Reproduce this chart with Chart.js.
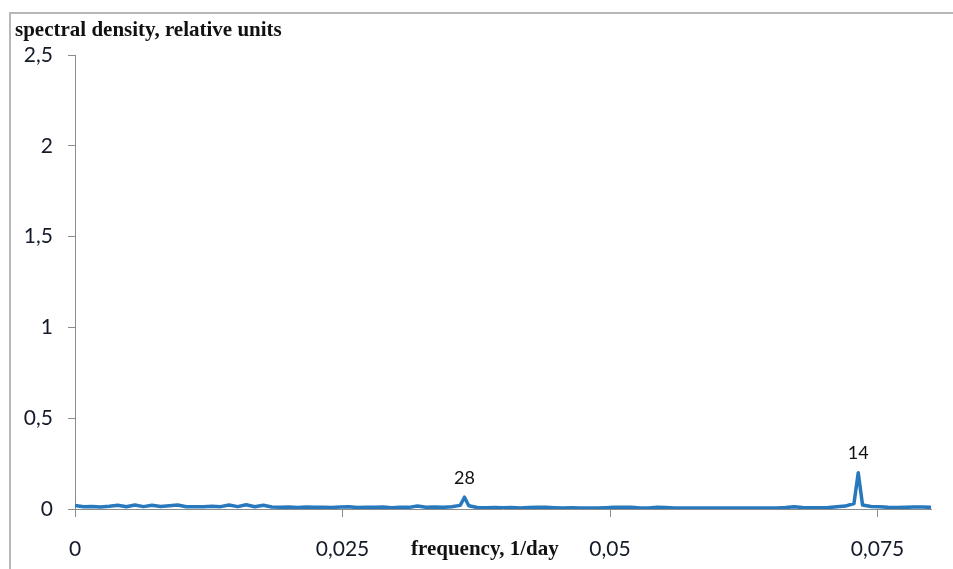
<!DOCTYPE html>
<html>
<head>
<meta charset="utf-8">
<script src="https://cdn.jsdelivr.net/npm/chart.js@4"></script>
<style>
  html, body { margin: 0; padding: 0; background: #fff; }
  #wrap { position: relative; width: 953px; height: 569px; }
</style>
</head>
<body>
<div id="wrap"><canvas id="spectrum" width="953" height="569"></canvas></div>
<script>
// frequency, 1/day
const freqs = [
  0, 0.0008, 0.0016, 0.0024, 0.0032, 0.0040, 0.0048, 0.0056, 0.0064, 0.0072,
  0.0080, 0.0088, 0.0096, 0.0104, 0.0112, 0.0120, 0.0128, 0.0136, 0.0144, 0.0152,
  0.0160, 0.0168, 0.0176, 0.0184, 0.0192, 0.0200, 0.0208, 0.0216, 0.0224, 0.0232,
  0.0240, 0.0248, 0.0256, 0.0264, 0.0272, 0.0280, 0.0288, 0.0296, 0.0304, 0.0312,
  0.0320, 0.0328, 0.0336, 0.0344, 0.0352, 0.0360, 0.0364, 0.0368, 0.0376, 0.0384, 0.0392,
  0.0400, 0.0408, 0.0416, 0.0424, 0.0432, 0.0440, 0.0448, 0.0456, 0.0464, 0.0472,
  0.0480, 0.0488, 0.0496, 0.0504, 0.0512, 0.0520, 0.0528, 0.0536, 0.0544, 0.0552,
  0.0560, 0.0568, 0.0576, 0.0584, 0.0592, 0.0600, 0.0608, 0.0616, 0.0624, 0.0632,
  0.0640, 0.0648, 0.0656, 0.0664, 0.0672, 0.0680, 0.0688, 0.0696, 0.0704, 0.0712,
  0.0720, 0.0728, 0.0732, 0.0736, 0.0744, 0.0752, 0.0760, 0.0768, 0.0776, 0.0784, 0.0792, 0.0800
];

// spectral density, relative units
const density = [
  0.019, 0.012, 0.014, 0.011, 0.015, 0.021, 0.012, 0.022, 0.013, 0.021,
  0.014, 0.018, 0.022, 0.012, 0.013, 0.012, 0.015, 0.013, 0.022, 0.013,
  0.023, 0.012, 0.021, 0.011, 0.010, 0.011, 0.008, 0.011, 0.009, 0.010,
  0.008, 0.011, 0.012, 0.008, 0.010, 0.009, 0.011, 0.007, 0.010, 0.009,
  0.016, 0.010, 0.011, 0.009, 0.012, 0.020, 0.065, 0.018, 0.008, 0.007, 0.008,
  0.007, 0.008, 0.006, 0.008, 0.009, 0.009, 0.007, 0.006, 0.007, 0.006,
  0.006, 0.006, 0.007, 0.009, 0.009, 0.009, 0.006, 0.005, 0.009, 0.008,
  0.005, 0.005, 0.006, 0.005, 0.005, 0.006, 0.005, 0.005, 0.005, 0.006,
  0.005, 0.006, 0.006, 0.008, 0.012, 0.008, 0.007, 0.007, 0.008, 0.012,
  0.016, 0.030, 0.200, 0.022, 0.014, 0.012, 0.009, 0.008, 0.009, 0.011, 0.011, 0.009
];

const xTicks = [0, 0.025, 0.05, 0.075];
const yTicks = [0, 0.5, 1, 1.5, 2, 2.5];

// period labels (days) over the peaks
const peakFreqs = [0.0364, 0.0732];
const peakLabels = ["28", "14"];

const yTitle = "spectral density, relative units";
const xTitle = "frequency, 1/day";

const comma = v => String(v).replace(".", ",");

// frame lines, axis titles and peak labels
const decorations = {
  id: "decorations",
  beforeDraw(chart) {
    const ctx = chart.ctx;
    ctx.save();
    ctx.strokeStyle = "#b8b8b8";
    ctx.lineWidth = 2;
    ctx.beginPath();
    ctx.moveTo(10, 569);
    ctx.lineTo(10, 13);
    ctx.lineTo(953, 13);
    ctx.stroke();
    ctx.restore();
  },
  afterDraw(chart) {
    const ctx = chart.ctx;
    ctx.save();
    ctx.fillStyle = "#111";
    ctx.font = "bold 21px 'Liberation Serif'";
    ctx.textBaseline = "alphabetic";
    ctx.textAlign = "left";
    ctx.fillText(yTitle, 15, 36);
    ctx.fillText(xTitle, 411, 555);

    const meta = chart.getDatasetMeta(0);
    ctx.font = "18px Lato";
    ctx.textAlign = "center";
    ctx.textBaseline = "bottom";
    peakFreqs.forEach((f, i) => {
      const idx = freqs.indexOf(f);
      const pt = meta.data[idx];
      ctx.fillText(peakLabels[i], pt.x, pt.y - 10);
    });
    ctx.restore();
  }
};

new Chart(document.getElementById("spectrum"), {
  type: "line",
  data: {
    datasets: [{
      data: freqs.map((f, i) => ({ x: f, y: density[i] })),
      borderColor: "#2878bd",
      borderWidth: 3.5,
      pointRadius: 0,
      tension: 0,
      borderJoinStyle: "round",
      fill: false
    }]
  },
  options: {
    responsive: false,
    animation: false,
    layout: { padding: { top: 55, right: 22, left: 0, bottom: 0 } },
    plugins: {
      legend: { display: false },
      tooltip: { enabled: false }
    },
    scales: {
      x: {
        type: "linear",
        min: 0,
        max: 0.08,
        afterBuildTicks: s => { s.ticks = xTicks.map(v => ({ value: v })); },
        afterFit: s => { s.height = 60; },
        grid: { drawOnChartArea: false, drawTicks: true, tickLength: 8, color: "#8c8c8c" },
        border: { display: true, color: "#8c8c8c", width: 1 },
        ticks: {
          padding: 20,
          maxRotation: 0,
          color: "#141a28",
          font: { family: "Lato", size: 21 },
          callback: v => comma(v)
        }
      },
      y: {
        min: 0,
        max: 2.5,
        afterBuildTicks: s => { s.ticks = yTicks.map(v => ({ value: v })); },
        afterFit: s => { s.width = 75; },
        grid: { drawOnChartArea: false, drawTicks: true, tickLength: 7, color: "#8c8c8c" },
        border: { display: true, color: "#8c8c8c", width: 1 },
        ticks: {
          padding: 15,
          color: "#141a28",
          font: { family: "Lato", size: 21 },
          callback: v => comma(v)
        }
      }
    }
  },
  plugins: [decorations]
});
</script>
</body>
</html>
